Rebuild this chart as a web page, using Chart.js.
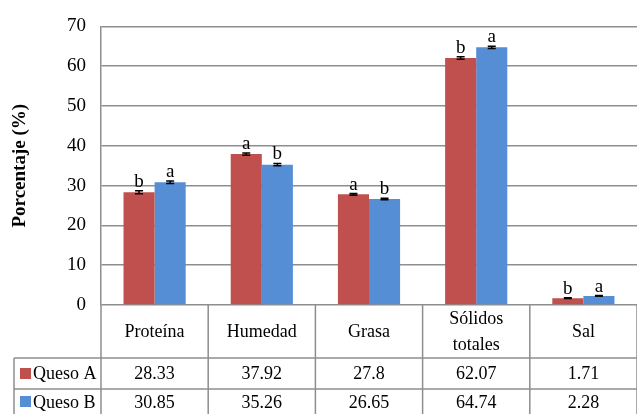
<!DOCTYPE html>
<html>
<head>
<meta charset="utf-8">
<script src="https://cdn.jsdelivr.net/npm/chart.js@4.4.0/dist/chart.umd.min.js"></script>
<style>
  html, body { margin: 0; padding: 0; background: #fff; }
  #c { display: block; }
</style>
</head>
<body>
<canvas id="c" width="637" height="414"></canvas>
<script>
// datos
const categorias = ['Proteína', 'Humedad', 'Grasa', ['Sólidos', 'totales'], 'Sal'];
const series = ['Queso A', 'Queso B'];
const quesoA = [28.33, 37.92, 27.8, 62.07, 1.71];
const quesoB = [30.85, 35.26, 26.65, 64.74, 2.28];
const errorA = [0.4, 0.3, 0.2, 0.3, 0.1];
const errorB = [0.3, 0.3, 0.2, 0.3, 0.1];
const letrasA = ['b', 'a', 'a', 'b', 'b'];
const letrasB = ['a', 'b', 'b', 'a', 'a'];
const yMin = 0, yMax = 70, yPaso = 10;

const rojo = '#C0504D';
const azul = '#558ED5';
const gris = '#8e8e8e';
const fuente = '"Liberation Serif", "Times New Roman", serif';

// barras de error y letras de significancia
const erroresPlugin = {
    id: 'errores',
    afterDatasetsDraw(chart) {
        const ctx = chart.ctx;
        const y = chart.scales.y;
        const errores = [errorA, errorB];
        const letras = [letrasA, letrasB];
        ctx.save();
        chart.data.datasets.forEach((ds, d) => {
            chart.getDatasetMeta(d).data.forEach((bar, i) => {
                const v = ds.data[i];
                const yTop = y.getPixelForValue(v + errores[d][i]);
                const yBot = y.getPixelForValue(v - errores[d][i]);
                ctx.strokeStyle = '#000';
                ctx.lineWidth = 1.5;
                ctx.beginPath();
                ctx.moveTo(bar.x, yTop); ctx.lineTo(bar.x, yBot);
                ctx.moveTo(bar.x - 4, yTop); ctx.lineTo(bar.x + 4, yTop);
                ctx.moveTo(bar.x - 4, yBot); ctx.lineTo(bar.x + 4, yBot);
                ctx.stroke();
                ctx.fillStyle = '#000';
                ctx.font = '19px ' + fuente;
                ctx.textAlign = 'center';
                ctx.textBaseline = 'alphabetic';
                ctx.fillText(letras[d][i], bar.x, yTop - 4);
            });
        });
        ctx.restore();
    }
};

// tabla de datos debajo del grafico
const tablaPlugin = {
    id: 'tabla',
    afterDraw(chart) {
        const ctx = chart.ctx;
        const area = chart.chartArea;
        const x = chart.scales.x;
        const n = categorias.length;
        const w = (area.right - area.left) / n;
        const r0 = area.bottom, r1 = r0 + 53, r2 = r1 + 31, r3 = chart.height;
        const izq = 14;

        ctx.save();
        ctx.strokeStyle = gris;
        ctx.lineWidth = 1.5;
        ctx.beginPath();
        for (let i = 0; i <= n; i++) {
            const bx = area.left + i * w;
            ctx.moveTo(bx, r0); ctx.lineTo(bx, r3);
        }
        ctx.moveTo(izq, r1); ctx.lineTo(izq, r3);
        ctx.moveTo(izq, r1); ctx.lineTo(area.right, r1);
        ctx.moveTo(izq, r2); ctx.lineTo(area.right, r2);
        ctx.stroke();

        ctx.fillStyle = '#000';
        ctx.font = '18px ' + fuente;
        ctx.textAlign = 'center';
        ctx.textBaseline = 'middle';
        categorias.forEach((c, i) => {
            const cx = x.getPixelForValue(i);
            const cy = (r0 + r1) / 2;
            if (Array.isArray(c)) {
                ctx.fillText(c[0], cx, cy - 12);
                ctx.fillText(c[1], cx, cy + 14);
            } else {
                ctx.fillText(c, cx, cy + 1);
            }
            ctx.fillText(String(quesoA[i]), cx, (r1 + r2) / 2 + 1);
            ctx.fillText(String(quesoB[i]), cx, (r2 + r3) / 2 + 2);
        });

        // leyenda en la tabla
        const filas = [(r1 + r2) / 2, (r2 + r3) / 2];
        const colores = [rojo, azul];
        ctx.textAlign = 'left';
        series.forEach((s, k) => {
            ctx.fillStyle = colores[k];
            ctx.fillRect(20, filas[k] - 5.5, 11, 11);
            ctx.fillStyle = '#000';
            ctx.fillText(s, 33, filas[k] + 1 + k);
        });
        ctx.restore();
    }
};

new Chart(document.getElementById('c'), {
    type: 'bar',
    data: {
        labels: categorias,
        datasets: [
            { label: series[0], data: quesoA, backgroundColor: rojo, categoryPercentage: 0.58, barPercentage: 1.0 },
            { label: series[1], data: quesoB, backgroundColor: azul, categoryPercentage: 0.58, barPercentage: 1.0 }
        ]
    },
    options: {
        responsive: false,
        animation: false,
        layout: { padding: { top: 25, right: 0, bottom: 109, left: 0 } },
        plugins: { legend: { display: false }, tooltip: { enabled: false } },
        scales: {
            x: { display: false },
            y: {
                min: yMin, max: yMax,
                afterFit(scale) { scale.width = 101; },
                ticks: { stepSize: yPaso, color: '#000', padding: 15, font: { family: fuente, size: 19 } },
                grid: { color: gris, lineWidth: 1.5, drawTicks: false },
                border: { display: true, color: gris, width: 1.5 },
                title: {
                    display: true, text: 'Porcentaje (%)', color: '#000',
                    padding: { top: 9, bottom: 0 },
                    font: { family: fuente, size: 19, weight: 'bold' }
                }
            }
        }
    },
    plugins: [erroresPlugin, tablaPlugin]
});
</script>
</body>
</html>
